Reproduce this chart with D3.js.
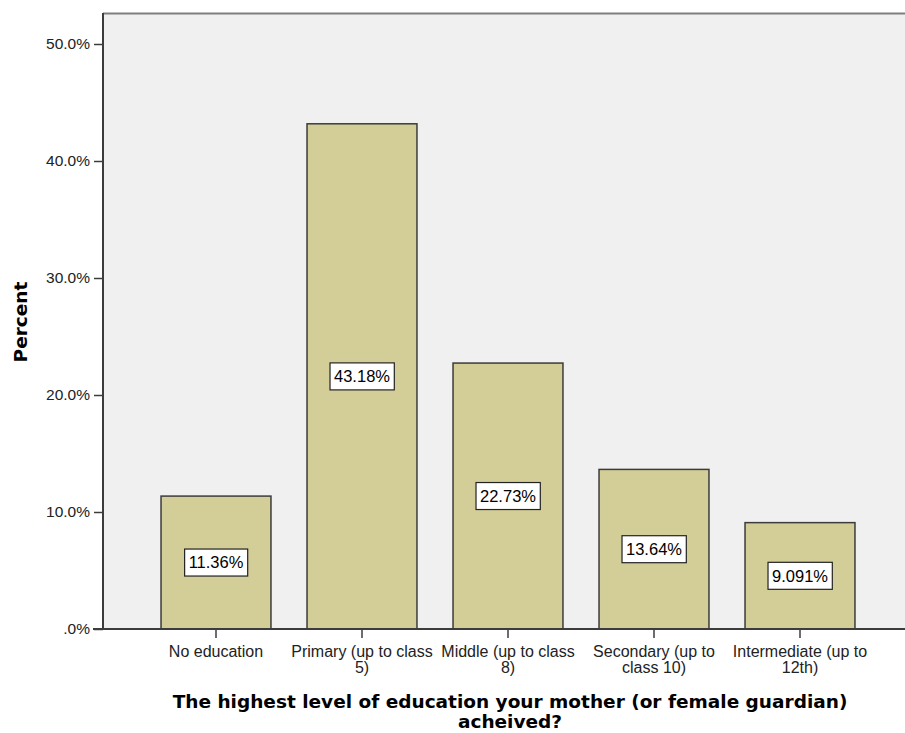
<!DOCTYPE html>
<html>
<head>
<meta charset="utf-8">
<script src="https://cdn.jsdelivr.net/npm/d3@7"></script>
<style>
  body { margin: 0; background: #fff; }
  text { font-family: "Liberation Sans", Arial, sans-serif; }
  text.title { font-family: "DejaVu Sans", Verdana, sans-serif; font-weight: bold; }
</style>
</head>
<body>
<div id="chart"></div>
<script>
// adatok
const categories = [
  ['No education'],
  ['Primary (up to class', '5)'],
  ['Middle (up to class', '8)'],
  ['Secondary (up to', 'class 10)'],
  ['Intermediate (up to', '12th)']
];
const percents = [11.36, 43.18, 22.73, 13.64, 9.091];
const valueLabels = ['11.36%', '43.18%', '22.73%', '13.64%', '9.091%'];
const yTicks = [0, 10, 20, 30, 40, 50];
const yTickLabels = ['.0%', '10.0%', '20.0%', '30.0%', '40.0%', '50.0%'];
const xTitle = ['The highest level of education your mother (or female guardian)', 'acheived?'];
const yTitle = 'Percent';

const width = 905, height = 733;
const plot = { left: 103, top: 13, right: 905, bottom: 629 };

const svg = d3.select('#chart').append('svg')
  .attr('width', width)
  .attr('height', height);

const x = d3.scaleBand()
  .domain(d3.range(categories.length))
  .range([143, 873])
  .paddingInner(0.247)
  .paddingOuter(0.1235);

const y = d3.scaleLinear()
  .domain([0, 52.65])
  .range([plot.bottom, plot.top]);

// háttér
svg.append('rect')
  .attr('x', plot.left)
  .attr('y', plot.top)
  .attr('width', plot.right - plot.left)
  .attr('height', plot.bottom - plot.top)
  .attr('fill', '#f0f0f0');

// felső keret
svg.append('line')
  .attr('x1', plot.left).attr('x2', plot.right)
  .attr('y1', plot.top + 0.5).attr('y2', plot.top + 0.5)
  .attr('stroke', '#7f7f7f')
  .attr('stroke-width', 2);

// oszlopok
svg.append('g').selectAll('rect')
  .data(percents)
  .join('rect')
  .attr('x', (d, i) => x(i))
  .attr('y', d => y(d))
  .attr('width', x.bandwidth())
  .attr('height', d => y(0) - y(d))
  .attr('fill', '#d3ce97')
  .attr('stroke', '#3c3c3c')
  .attr('stroke-width', 1.5);

// értékcímkék
const lbl = svg.append('g').selectAll('g')
  .data(percents)
  .join('g')
  .attr('transform', (d, i) => `translate(${x(i) + x.bandwidth() / 2},${(y(d) + y(0)) / 2})`);
lbl.append('text')
  .attr('text-anchor', 'middle')
  .attr('dy', '0.36em')
  .attr('font-size', '16.5px')
  .attr('fill', '#000')
  .text((d, i) => valueLabels[i]);
lbl.each(function () {
  const g = d3.select(this);
  const bb = g.select('text').node().getBBox();
  g.insert('rect', 'text')
    .attr('x', bb.x - 4)
    .attr('y', -13.5)
    .attr('width', bb.width + 8)
    .attr('height', 27)
    .attr('fill', '#fff')
    .attr('stroke', '#222')
    .attr('stroke-width', 1.2);
});

// y tengely
const yAxis = svg.append('g')
  .attr('transform', `translate(${plot.left},0)`)
  .call(d3.axisLeft(y).tickValues(yTicks).tickSize(9).tickPadding(4)
    .tickFormat((d, i) => yTickLabels[i]));
yAxis.select('.domain').remove();
yAxis.selectAll('.tick line').attr('stroke', '#3c3c3c').attr('stroke-width', 1.5);
yAxis.selectAll('.tick text')
  .attr('font-size', '15.5px')
  .attr('fill', '#222');
svg.append('line')
  .attr('x1', plot.left).attr('x2', plot.left)
  .attr('y1', plot.top).attr('y2', plot.bottom)
  .attr('stroke', '#3c3c3c')
  .attr('stroke-width', 2);

// x tengely
const xAxis = svg.append('g')
  .attr('transform', `translate(0,${plot.bottom})`)
  .call(d3.axisBottom(x).tickSize(9).tickFormat(''));
xAxis.select('.domain').remove();
xAxis.selectAll('.tick line').attr('stroke', '#3c3c3c').attr('stroke-width', 1.5);
svg.append('line')
  .attr('x1', plot.left - 10).attr('x2', plot.right)
  .attr('y1', plot.bottom).attr('y2', plot.bottom)
  .attr('stroke', '#3c3c3c')
  .attr('stroke-width', 2);

// kategória feliratok (két sor)
svg.append('g').selectAll('text')
  .data(categories)
  .join('text')
  .attr('x', (d, i) => x(i) + x.bandwidth() / 2)
  .attr('y', 657)
  .attr('text-anchor', 'middle')
  .attr('font-size', '16px')
  .attr('fill', '#222')
  .each(function (d) {
    const t = d3.select(this);
    d.forEach((line, j) => {
      t.append('tspan')
        .attr('x', t.attr('x'))
        .attr('dy', j === 0 ? 0 : 16)
        .text(line);
    });
  });

// tengelycímek
svg.append('text')
  .attr('class', 'title')
  .attr('text-anchor', 'middle')
  .attr('font-size', '18.5px')
  .attr('fill', '#000')
  .selectAll('tspan')
  .data(xTitle)
  .join('tspan')
  .attr('x', 510)
  .attr('y', (d, i) => 708 + i * 20)
  .text(d => d);

svg.append('text')
  .attr('class', 'title')
  .attr('transform', `translate(27,322) rotate(-90)`)
  .attr('text-anchor', 'middle')
  .attr('font-size', '18.5px')
  .attr('fill', '#000')
  .text(yTitle);
</script>
</body>
</html>
